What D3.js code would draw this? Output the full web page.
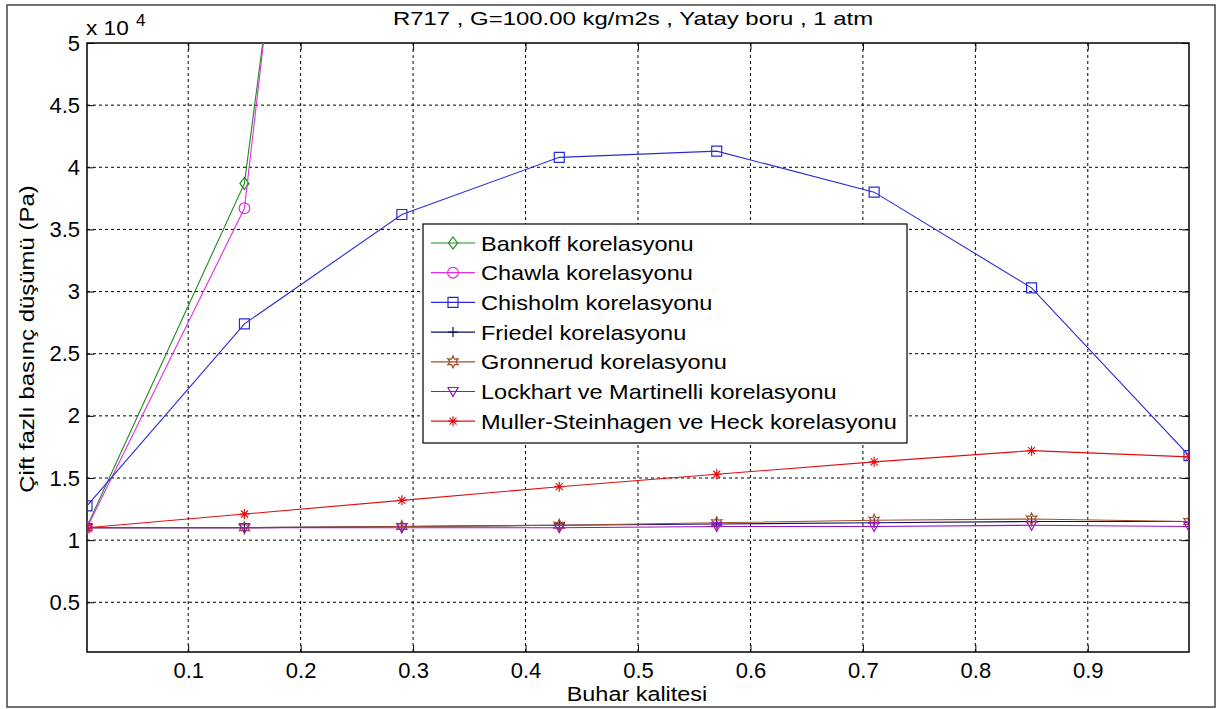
<!DOCTYPE html>
<html>
<head>
<meta charset="utf-8">
<script src="https://cdn.jsdelivr.net/npm/d3@7"></script>
<style>
  body { margin: 0; background: #fff; }
  text { font-family: Arial, "Liberation Sans", sans-serif; fill: #000; }
</style>
</head>
<body>
<div id="chart"></div>
<script>
// x values (buhar kalitesi) and pressure drop values in Pa
var quality   = [0.01, 0.15, 0.29, 0.43, 0.57, 0.71, 0.85, 0.99];
var bankoff   = [11100, 38700, 136000, 230000, 330000, 430000, 530000, 600000];
var chawla    = [11000, 36700, 147000, 260000, 380000, 500000, 620000, 700000];
var chisholm  = [12750, 27400, 36200, 40800, 41300, 38000, 30300, 16800];
var friedel   = [11000, 11000, 11100, 11200, 11300, 11400, 11500, 11500];
var gronnerud = [11000, 11000, 11100, 11200, 11400, 11600, 11700, 11500];
var lockhart  = [11000, 11000, 11000, 11000, 11100, 11100, 11200, 11100];
var muller    = [11000, 12100, 13200, 14300, 15300, 16300, 17200, 16700];

var seriesNames = ["Bankoff korelasyonu", "Chawla korelasyonu", "Chisholm korelasyonu",
  "Friedel korelasyonu", "Gronnerud korelasyonu", "Lockhart ve Martinelli korelasyonu",
  "Muller-Steinhagen ve Heck korelasyonu"];
var xTicks = [0.1, 0.2, 0.3, 0.4, 0.5, 0.6, 0.7, 0.8, 0.9];
var yTicks = [5000, 10000, 15000, 20000, 25000, 30000, 35000, 40000, 45000, 50000];

var colors = ["#1f8a1f", "#e02ee0", "#2a2ad8", "#101060", "#a0522d", "#9a10c8", "#e01010"];
var markers = ["diamond", "circle", "square", "plus", "hexagram", "triangleDown", "asterisk"];
var allSeries = [bankoff, chawla, chisholm, friedel, gronnerud, lockhart, muller];

var W = 1217, H = 709;
var pl = 87, pr = 1189, pt = 43, pb = 652;

var svg = d3.select("#chart").append("svg")
  .attr("width", W).attr("height", H);

// stretch text horizontally (the reference font runs wider)
function stretch(sel, f) {
  sel.each(function() {
    var len = this.getComputedTextLength();
    d3.select(this).attr("textLength", len * f).attr("lengthAdjust", "spacingAndGlyphs");
  });
}

// figure frame
svg.append("rect").attr("x", 7).attr("y", 5).attr("width", 1208).attr("height", 702)
  .attr("fill", "none").attr("stroke", "#444").attr("stroke-width", 1.5);

var x = d3.scaleLinear().domain([0.01, 0.99]).range([pl, pr]);
var y = d3.scaleLinear().domain([1000, 50000]).range([pb, pt]);

svg.append("defs").append("clipPath").attr("id", "plotclip")
  .append("rect").attr("x", pl).attr("y", pt)
  .attr("width", pr - pl).attr("height", pb - pt);

// grid
var grid = svg.append("g").attr("stroke", "#000").attr("stroke-width", 1)
  .attr("stroke-dasharray", "3,3");
xTicks.forEach(function(t) {
  grid.append("line").attr("x1", x(t)).attr("x2", x(t)).attr("y1", pt).attr("y2", pb);
});
yTicks.filter(function(t) { return t < 50000; }).forEach(function(t) {
  grid.append("line").attr("x1", pl).attr("x2", pr).attr("y1", y(t)).attr("y2", y(t));
});

// axes (ticks pointing in)
var xAxis = d3.axisBottom(x).tickValues(xTicks).tickSize(-7).tickPadding(10)
  .tickFormat(d3.format(".1f"));
var gx = svg.append("g").attr("transform", "translate(0," + pb + ")").call(xAxis);
var gxTop = svg.append("g").attr("transform", "translate(0," + pt + ")")
  .call(d3.axisTop(x).tickValues(xTicks).tickSize(-7).tickFormat(""));
var yAxis = d3.axisLeft(y).tickValues(yTicks).tickSize(-7).tickPadding(7)
  .tickFormat(function(d) { return d3.format("")(d / 10000); });
var gy = svg.append("g").attr("transform", "translate(" + pl + ",0)").call(yAxis);
var gyR = svg.append("g").attr("transform", "translate(" + pr + ",0)")
  .call(d3.axisRight(y).tickValues(yTicks).tickSize(-7).tickFormat(""));
[gx, gxTop, gy, gyR].forEach(function(g) {
  g.select(".domain").remove();
  g.selectAll("line").attr("stroke", "#000");
  g.selectAll("text").style("font-size", "22px").attr("font-family", null);
});
svg.append("rect").attr("x", pl).attr("y", pt)
  .attr("width", pr - pl).attr("height", pb - pt)
  .attr("fill", "none").attr("stroke", "#000").attr("stroke-width", 1.5);

// marker shapes
function markerPath(kind) {
  switch (kind) {
    case "diamond": return "M0,-6L4.5,0L0,6L-4.5,0Z";
    case "circle": return d3.symbol().type(d3.symbolCircle).size(90)();
    case "square": return "M-5,-5H5V5H-5Z";
    case "plus": return "M-5,0H5M0,-5V5";
    case "triangleDown": return "M-5,-4H5L0,5Z";
    case "asterisk": return "M-5,0H5M0,-5V5M-3.5,-3.5L3.5,3.5M-3.5,3.5L3.5,-3.5";
    case "hexagram":
      var pts = [];
      for (var i = 0; i < 12; i++) {
        var r = i % 2 ? 3 : 6, a = Math.PI / 6 * i - Math.PI / 2;
        pts.push([r * Math.cos(a), r * Math.sin(a)]);
      }
      return "M" + pts.join("L") + "Z";
  }
}

var plot = svg.append("g").attr("clip-path", "url(#plotclip)");
var line = d3.line().x(function(d) { return x(d[0]); }).y(function(d) { return y(d[1]); });

allSeries.forEach(function(vals, i) {
  var pts = quality.map(function(q, k) { return [q, vals[k]]; });
  plot.append("path").datum(pts).attr("d", line)
    .attr("fill", "none").attr("stroke", colors[i]).attr("stroke-width", 1.1);
  plot.selectAll(null).data(pts.filter(function(p) { return p[1] <= 50000; }))
    .enter().append("path")
    .attr("transform", function(d) { return "translate(" + x(d[0]) + "," + y(d[1]) + ")"; })
    .attr("d", markerPath(markers[i]))
    .attr("fill", "none").attr("stroke", colors[i]).attr("stroke-width", 1.2);
});

// legend
var lg = svg.append("g");
lg.append("rect").attr("x", 423).attr("y", 224).attr("width", 484).attr("height", 219)
  .attr("fill", "#fff").attr("stroke", "#000").attr("stroke-width", 1.2);
seriesNames.forEach(function(name, i) {
  var cy = 243 + i * 29.7;
  lg.append("line").attr("x1", 431).attr("x2", 475).attr("y1", cy).attr("y2", cy)
    .attr("stroke", colors[i]).attr("stroke-width", 1.2);
  lg.append("path").attr("transform", "translate(453," + cy + ")")
    .attr("d", markerPath(markers[i]))
    .attr("fill", "none").attr("stroke", colors[i]).attr("stroke-width", 1.2);
  lg.append("text").attr("x", 481).attr("y", cy + 7.5).style("font-size", "21px").text(name)
    .call(stretch, 1.12);
});

// labels
svg.append("text").attr("x", 633).attr("y", 25).attr("text-anchor", "middle")
  .style("font-size", "19px").text("R717 , G=100.00 kg/m2s , Yatay boru , 1 atm")
  .call(stretch, 1.26);
svg.append("text").attr("x", 637).attr("y", 701).attr("text-anchor", "middle")
  .style("font-size", "20px").text("Buhar kalitesi").call(stretch, 1.17);
svg.append("text").attr("transform", "translate(34,339) rotate(-90)")
  .attr("text-anchor", "middle").style("font-size", "21px")
  .text("Çift fazlı basınç düşümü (Pa)").call(stretch, 1.14);
svg.append("text").attr("x", 86).attr("y", 35).style("font-size", "20px").text("x 10")
  .call(stretch, 1.13);
svg.append("text").attr("x", 136).attr("y", 26).style("font-size", "17px").text("4");
</script>
</body>
</html>
